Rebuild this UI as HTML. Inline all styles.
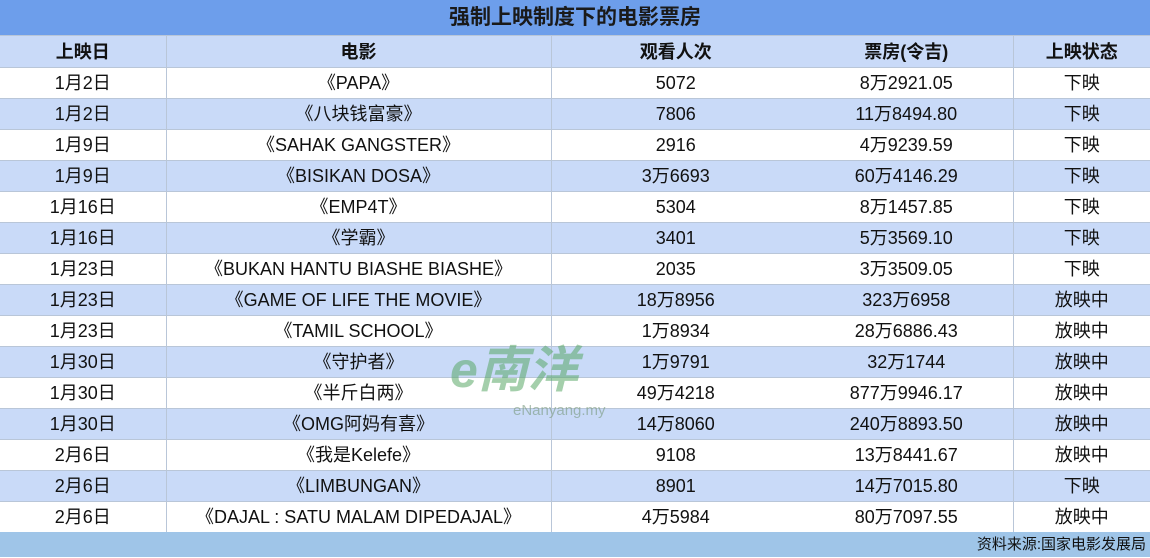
<!DOCTYPE html>
<html><head><meta charset="utf-8"><style>
body{margin:0;width:1150px;height:557px;overflow:hidden;font-family:"Liberation Sans","Noto Sans CJK SC",sans-serif;background:#fff;position:relative}
.title{position:absolute;left:0;top:0;width:1150px;height:35px;background:#6d9eeb;color:#1a1a1a;font-size:21px;font-weight:bold;text-align:center;line-height:36px}
table{position:absolute;left:0;top:35px;border-collapse:collapse;width:1150px;table-layout:fixed}
td{height:30px;padding:0;text-align:center;font-size:18px;color:#111;border-top:1.5px solid #b9c6d8;line-height:30px;white-space:nowrap}
td.c1{border-right:1px solid #b9c6d8}
td.c2{border-right:1px solid #b9c6d8}
td.c4{border-right:1px solid #b9c6d8}
tr.h td{background:#c9daf8;font-weight:bold;height:31px}
tr:nth-child(odd):not(.h) td{background:#c9daf8}
.foot{position:absolute;left:0;top:532px;width:1150px;height:25px;background:#9fc5e8;text-align:right;font-size:15px;line-height:26px;color:#111}
.foot span{margin-right:4px}
.wm{position:absolute;left:450px;top:330px;color:#5aa868;opacity:.55;font-size:50px;font-weight:bold;font-style:italic}
.wm2{position:absolute;left:513px;top:402px;color:#7a9a7f;opacity:.6;font-size:15px}
</style></head><body>
<div class="title">强制上映制度下的电影票房</div>
<table>
<colgroup><col style="width:166px"><col style="width:385px"><col style="width:249px"><col style="width:213px"><col style="width:137px"></colgroup>
<tr class="h"><td class="c1">上映日</td><td class="c2">电影</td><td>观看人次</td><td class="c4">票房(令吉)</td><td>上映状态</td></tr>
<tr><td class="c1">1月2日</td><td class="c2">《PAPA》</td><td>5072</td><td class="c4">8万2921.05</td><td>下映</td></tr>
<tr><td class="c1">1月2日</td><td class="c2">《八块钱富豪》</td><td>7806</td><td class="c4">11万8494.80</td><td>下映</td></tr>
<tr><td class="c1">1月9日</td><td class="c2">《SAHAK GANGSTER》</td><td>2916</td><td class="c4">4万9239.59</td><td>下映</td></tr>
<tr><td class="c1">1月9日</td><td class="c2">《BISIKAN DOSA》</td><td>3万6693</td><td class="c4">60万4146.29</td><td>下映</td></tr>
<tr><td class="c1">1月16日</td><td class="c2">《EMP4T》</td><td>5304</td><td class="c4">8万1457.85</td><td>下映</td></tr>
<tr><td class="c1">1月16日</td><td class="c2">《学霸》</td><td>3401</td><td class="c4">5万3569.10</td><td>下映</td></tr>
<tr><td class="c1">1月23日</td><td class="c2">《BUKAN HANTU BIASHE BIASHE》</td><td>2035</td><td class="c4">3万3509.05</td><td>下映</td></tr>
<tr><td class="c1">1月23日</td><td class="c2">《GAME OF LIFE THE MOVIE》</td><td>18万8956</td><td class="c4">323万6958</td><td>放映中</td></tr>
<tr><td class="c1">1月23日</td><td class="c2">《TAMIL SCHOOL》</td><td>1万8934</td><td class="c4">28万6886.43</td><td>放映中</td></tr>
<tr><td class="c1">1月30日</td><td class="c2">《守护者》</td><td>1万9791</td><td class="c4">32万1744</td><td>放映中</td></tr>
<tr><td class="c1">1月30日</td><td class="c2">《半斤白两》</td><td>49万4218</td><td class="c4">877万9946.17</td><td>放映中</td></tr>
<tr><td class="c1">1月30日</td><td class="c2">《OMG阿妈有喜》</td><td>14万8060</td><td class="c4">240万8893.50</td><td>放映中</td></tr>
<tr><td class="c1">2月6日</td><td class="c2">《我是Kelefe》</td><td>9108</td><td class="c4">13万8441.67</td><td>放映中</td></tr>
<tr><td class="c1">2月6日</td><td class="c2">《LIMBUNGAN》</td><td>8901</td><td class="c4">14万7015.80</td><td>下映</td></tr>
<tr><td class="c1">2月6日</td><td class="c2">《DAJAL : SATU MALAM DIPEDAJAL》</td><td>4万5984</td><td class="c4">80万7097.55</td><td>放映中</td></tr>
</table>
<div class="wm">e南洋</div>
<div class="wm2">eNanyang.my</div>
<div class="foot"><span>资料来源:国家电影发展局</span></div>
</body></html>
